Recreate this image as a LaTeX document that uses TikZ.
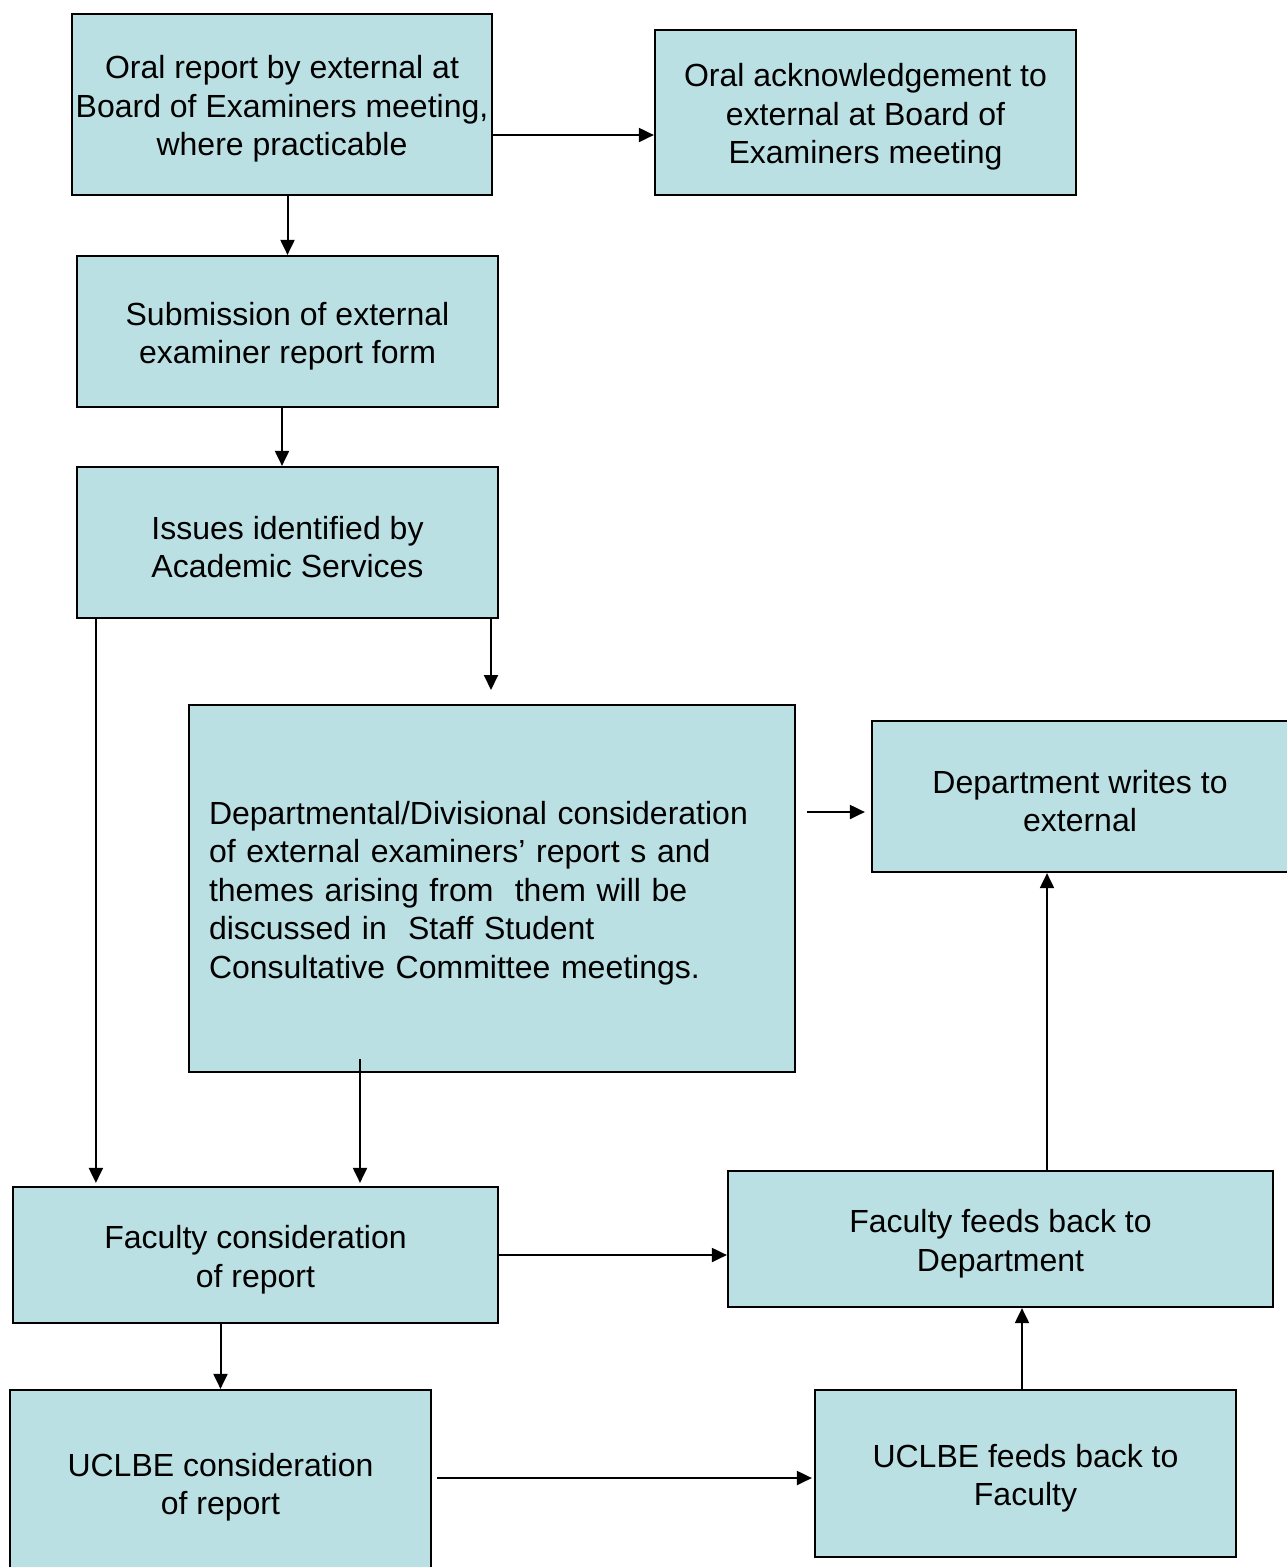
\documentclass[tikz,border=0pt]{standalone}
\usepackage{fontspec}
\setmainfont{Liberation Sans}
\usetikzlibrary{arrows.meta,calc}
\definecolor{boxfill}{RGB}{187,224,227}
\newcommand\mytopstrut{\rule{0pt}{32.5pt}}
\begin{document}
\begin{tikzpicture}[x=1pt,y=-1pt,
  box/.style={draw=black, line width=2.2pt, fill=boxfill, rectangle, inner sep=0pt,
    align=center, font=\fontsize{32}{38.5}\selectfont, text=black},
  arr/.style={line width=2pt, -{Triangle[length=15pt,width=14pt]}}]
\useasboundingbox (0,0) rectangle (1286,1567);

\node[box, minimum width=420pt, minimum height=181pt] (b1) at (282,104.5)
  {\mytopstrut Oral report by external at\\Board of Examiners meeting,\\where practicable};
\node[box, minimum width=421pt, minimum height=165pt] (b2) at (865.5,112.5)
  {\mytopstrut Oral acknowledgement to\\external at Board of\\Examiners meeting};
\node[box, minimum width=421pt, minimum height=151pt] (b3) at (287.5,331.5)
  {\mytopstrut Submission of external\\examiner report form};
\node[box, minimum width=421pt, minimum height=151pt] (b4) at (287.5,542.5)
  {\mytopstrut Issues identified by\\Academic Services};
\node[box, minimum width=606pt, minimum height=367pt, text width=566pt, inner xsep=20pt, align=left] (b5) at (492,888.5)
  {\mytopstrut Departmental/Divisional consideration\\of external examiners’ report s and\\themes arising from \ them will be\\discussed in \ Staff Student\\Consultative Committee meetings.};
\node[box, minimum width=416pt, minimum height=151pt] (b6) at (1080,796.5)
  {\mytopstrut Department writes to\\external};
\node[box, minimum width=485pt, minimum height=136pt] (b7) at (255.5,1255)
  {\mytopstrut Faculty consideration\\of report};
\node[box, minimum width=545pt, minimum height=136pt] (b8) at (1000.5,1239)
  {\mytopstrut Faculty feeds back to\\Department};
\node[box, minimum width=421pt, minimum height=185pt] (b9) at (220.5,1482.5)
  {\mytopstrut UCLBE consideration\\of report};
\node[box, minimum width=421pt, minimum height=167pt] (b10) at (1025.5,1473.5)
  {\mytopstrut UCLBE feeds back to\\Faculty};

\path ([yshift=-30.5pt]b1.east) coordinate (s1);
\draw[arr] (s1) -- (s1 -| b2.west);
\draw[arr] (b3.north |- b1.south) -- (b3.north);
\path ([xshift=-5.5pt]b3.south) coordinate (s3);
\draw[arr] (s3) -- (s3 |- b4.north);
\coordinate (e4) at (491,690);
\draw[arr] (e4 |- b4.south) -- (e4);
\path ([xshift=20pt]b4.south west) coordinate (s5);
\draw[arr, shorten >=3pt] (s5) -- (s5 |- b7.north);
\path ([xshift=-132pt,yshift=14pt]b5.south) coordinate (s6);
\draw[arr, shorten >=3pt] (s6) -- (s6 |- b7.north);
\path ([xshift=11pt,yshift=76.5pt]b5.east) coordinate (s7);
\draw[arr, shorten >=6pt] (s7) -- (s7 -| b6.west);
\draw[arr] (b7.east) -- (b7.east -| b8.west);
\draw[arr] (b9.north |- b7.south) -- (b9.north);
\path ([xshift=5pt,yshift=4.5pt]b9.east) coordinate (s10);
\draw[arr, shorten >=2pt] (s10) -- (s10 -| b10.west);
\path ([xshift=-3.5pt]b10.north) coordinate (s11);
\draw[arr] (s11) -- (s11 |- b8.south);
\path ([xshift=46.5pt]b8.north) coordinate (s12);
\draw[arr] (s12) -- (s12 |- b6.south);
\end{tikzpicture}
\end{document}
